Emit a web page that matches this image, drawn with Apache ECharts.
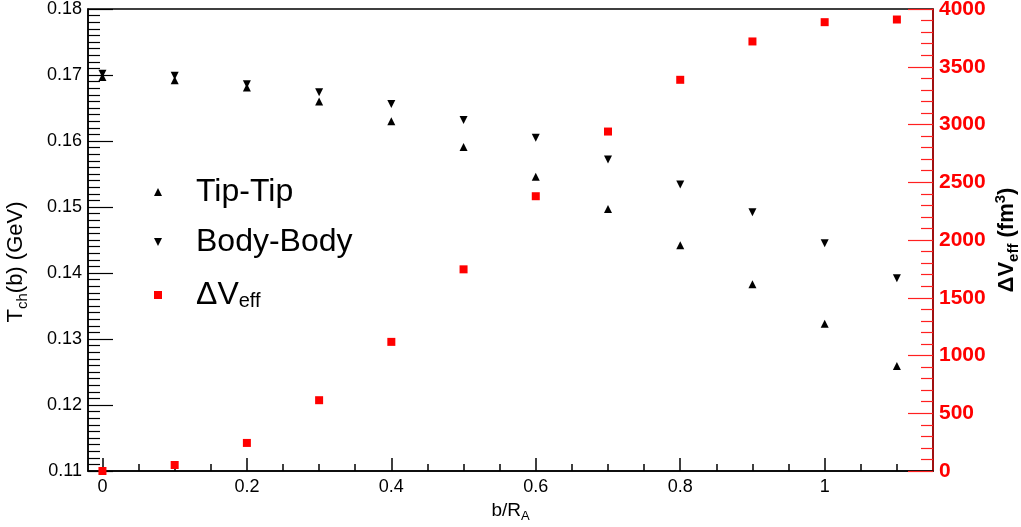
<!DOCTYPE html>
<html>
<head>
<meta charset="utf-8">
<script src="https://cdn.jsdelivr.net/npm/echarts@6/dist/echarts.min.js"></script>
<style>
html,body{margin:0;padding:0;background:#fff;}
#chart{width:1021px;height:527px;}
</style>
</head>
<body>
<div id="chart"></div>
<script>
// ---- data ----
const bValues   = [0, 0.1, 0.2, 0.3, 0.4, 0.5, 0.6, 0.7, 0.8, 0.9, 1.0, 1.1];
const tipTip    = [0.1697, 0.1692, 0.1681, 0.1660, 0.1630, 0.1591, 0.1546, 0.1497, 0.1442, 0.1383, 0.1323, 0.1259];
const bodyBody  = [0.1702, 0.1699, 0.1686, 0.1674, 0.1656, 0.1632, 0.1605, 0.1572, 0.1534, 0.1492, 0.1445, 0.1392];
const deltaVeff = [0, 52, 243, 613, 1118, 1746, 2379, 2939, 3387, 3719, 3886, 3909];
const xMajorTicks = [0, 0.2, 0.4, 0.6, 0.8, 1.0];
const xMinorTicks = [0.05, 0.1, 0.15, 0.25, 0.3, 0.35, 0.45, 0.5, 0.55, 0.65, 0.7, 0.75, 0.85, 0.9, 0.95, 1.05, 1.1];

const FONT = "'Liberation Sans', Arial, Helvetica, sans-serif";
const pairs = (ys) => bValues.map((b, i) => [b, ys[i]]);

const chart = echarts.init(document.getElementById('chart'));
chart.setOption({
  animation: false,
  textStyle: { fontFamily: FONT },
  grid: { left: 88, right: 88, top: 9, bottom: 56, show: true, borderColor: '#000', borderWidth: 1.5,
    containLabel: false, outerBoundsMode: 'none' },
  legend: {
    orient: 'vertical', left: 149, top: 171,
    itemWidth: 8, itemHeight: 8, itemGap: 18,
    textStyle: { fontSize: 32, lineHeight: 32, color: '#000', fontFamily: FONT, padding: [0, 0, 0, 29],
      rich: {
        n: { fontSize: 32, lineHeight: 32, color: '#000', fontFamily: FONT },
        s: { fontSize: 20, lineHeight: 32, color: '#000', fontFamily: FONT, verticalAlign: 'bottom', padding: [15, 0, 0, 0] }
      } },
    formatter: (name) => name === 'ΔVeff' ? '{n|ΔV}{s|eff}' : name,
    data: [
      { name: 'Tip-Tip', icon: 'triangle' },
      { name: 'Body-Body', icon: 'path://M0,0 L10,0 L5,10 Z' },
      { name: 'ΔVeff', icon: 'rect' }
    ]
  },
  xAxis: [
    {
      type: 'value', min: -0.02, max: 1.15, position: 'bottom',
      name: '{n|b/R}{s|A}', nameLocation: 'middle', nameGap: 24,
      nameTextStyle: { rich: {
        n: { fontSize: 19, fontFamily: FONT, color: '#000' },
        s: { fontSize: 13, fontFamily: FONT, color: '#000', verticalAlign: 'bottom', padding: [12, 0, 0, 0] }
      } },
      axisLine: { show: true, onZero: false, lineStyle: { color: '#000', width: 1.5 } },
      axisTick: { show: true, inside: true, length: 13, customValues: xMajorTicks, lineStyle: { color: '#000', width: 1.5 } },
      axisLabel: { show: true, customValues: xMajorTicks, margin: 7, fontSize: 18, color: '#000', fontFamily: FONT,
        formatter: (v) => String(+v.toFixed(2)) },
      splitLine: { show: false }
    },
    {
      type: 'value', min: -0.02, max: 1.15, position: 'bottom',
      axisLine: { show: false, onZero: false },
      axisTick: { show: true, inside: true, length: 7, customValues: xMinorTicks, lineStyle: { color: '#000', width: 1.5 } },
      axisLabel: { show: false },
      splitLine: { show: false }
    }
  ],
  yAxis: [
    {
      type: 'value', min: 0.11, max: 0.18, interval: 0.01, position: 'left',
      name: '{n|T}{s|ch}{n|(b) (GeV)}', nameLocation: 'middle', nameGap: 58,
      nameTextStyle: { padding: [0, 44, 0, 0], rich: {
        n: { fontSize: 22, fontFamily: FONT, color: '#000' },
        s: { fontSize: 15, fontFamily: FONT, color: '#000', verticalAlign: 'bottom', padding: [13, 0, 0, 0] }
      } },
      axisLine: { show: true, onZero: false, lineStyle: { color: '#000', width: 1.5 } },
      axisTick: { show: true, inside: true, length: 25, lineStyle: { color: '#000', width: 1.2 } },
      minorTick: { show: true, splitNumber: 10, length: 12, lineStyle: { color: '#000', width: 1.2 } },
      axisLabel: { margin: 6, fontSize: 18, color: '#000', fontFamily: FONT, formatter: (v) => v.toFixed(2) },
      splitLine: { show: false }
    },
    {
      type: 'value', min: 0, max: 4000, interval: 500, position: 'right',
      name: '{n|ΔV}{s|eff}{n| (fm}{p|3}{n|)}', nameLocation: 'middle', nameGap: 60, nameRotate: 90,
      nameMoveOverlap: false,
      nameTextStyle: { rich: {
        n: { fontSize: 22, fontWeight: 'bold', fontFamily: FONT, color: '#000' },
        s: { fontSize: 15, fontWeight: 'bold', fontFamily: FONT, color: '#000', verticalAlign: 'bottom', padding: [13, 0, 0, 0] },
        p: { fontSize: 15, fontWeight: 'bold', fontFamily: FONT, color: '#000', verticalAlign: 'top', padding: [0, 0, 11, 0] }
      } },
      axisLine: { show: true, onZero: false, lineStyle: { color: '#c00000', width: 1.5 } },
      axisTick: { show: true, inside: true, length: 25, lineStyle: { color: '#ff2020', width: 1.2 } },
      minorTick: { show: true, splitNumber: 5, length: 12, lineStyle: { color: '#ff2020', width: 1.2 } },
      axisLabel: { margin: 6, fontSize: 21, fontWeight: 'bold', color: '#ff0000', fontFamily: FONT,
        formatter: (v) => String(v) },
      splitLine: { show: false }
    }
  ],
  series: [
    { name: 'Tip-Tip', type: 'scatter', xAxisIndex: 0, yAxisIndex: 0, symbol: 'triangle', symbolSize: [8, 8],
      itemStyle: { color: '#000', opacity: 1 }, data: pairs(tipTip) },
    { name: 'Body-Body', type: 'scatter', xAxisIndex: 0, yAxisIndex: 0, symbol: 'triangle', symbolRotate: 180, symbolSize: [8, 8],
      itemStyle: { color: '#000', opacity: 1 }, data: pairs(bodyBody) },
    { name: 'ΔVeff', type: 'scatter', xAxisIndex: 0, yAxisIndex: 1, symbol: 'rect', symbolSize: [8, 8],
      itemStyle: { color: '#ff0000', opacity: 1 }, data: pairs(deltaVeff) }
  ]
});
</script>
</body>
</html>
